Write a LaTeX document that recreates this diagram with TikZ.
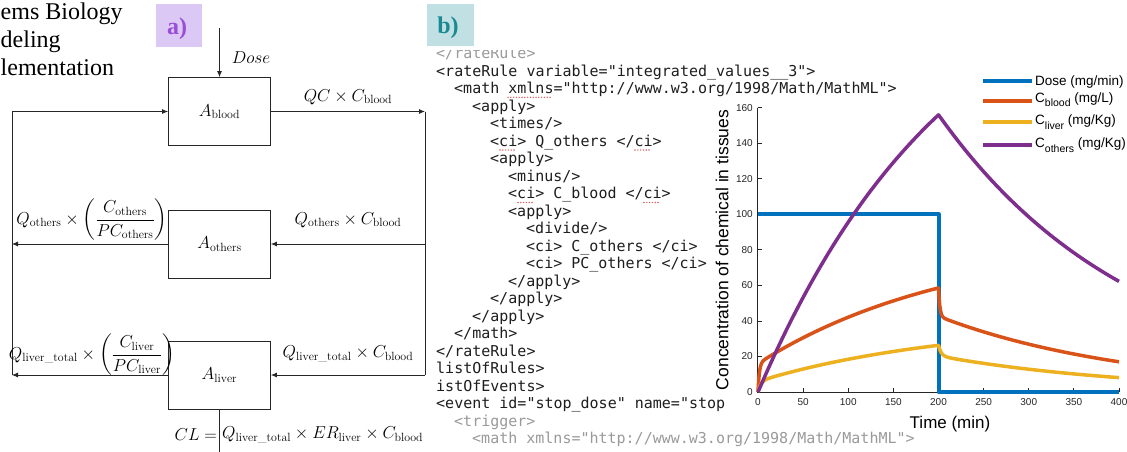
\documentclass[tikz,border=0pt]{standalone}
\usepackage{fontspec}
\usepackage{amsmath}
\usetikzlibrary{arrows.meta}
\newfontfamily\plotfont{Liberation Sans}
\newfontfamily\codefont{DejaVu Sans Mono}
\newfontfamily\serifTimes{Liberation Serif}
\definecolor{mblue}{HTML}{0072BD}
\definecolor{morange}{HTML}{D95319}
\definecolor{myellow}{HTML}{EDB120}
\definecolor{mpurple}{HTML}{7E2F8E}
\definecolor{axisgray}{HTML}{262626}
\definecolor{codegray}{HTML}{9A9A9A}
\definecolor{codeblack}{HTML}{1E1E1E}
\definecolor{squigred}{HTML}{E06464}
\definecolor{abg}{HTML}{DCC8F5}
\definecolor{atxt}{HTML}{9A4DD8}
\definecolor{bbg}{HTML}{C0E0E4}
\definecolor{btxt}{HTML}{1A8A92}
\tikzset{
  box/.style={draw=black!85, line width=0.8pt, minimum width=102pt, minimum height=68pt, inner sep=0pt, font=\fontsize{17}{20}\selectfont},
  flow/.style={draw=black!85, line width=0.8pt},
  arr/.style={flow, -{Latex[length=6pt,width=5pt]}},
  mlabel/.style={inner sep=0pt, font=\fontsize{17}{20}\selectfont},
  codetxt/.style={anchor=base west, inner sep=0pt, font=\codefont\fontsize{15}{17.5}\selectfont},
  ticklbl/.style={inner sep=0pt, font=\plotfont\fontsize{10}{12}\selectfont, text=axisgray},
  legtxt/.style={anchor=base west, inner sep=0pt, font=\plotfont\fontsize{13.5}{16}\selectfont},
  curve/.style={line width=3.5pt, line join=round},
  legline/.style={line width=4pt},
  squig/.style={draw=squigred, line width=1.6pt, line cap=round, dash pattern=on 0pt off 2.8pt},
  panellbl/.style={inner sep=0pt, font=\serifTimes\bfseries\fontsize{24}{28}\selectfont},
  cuttxt/.style={anchor=base west, inner sep=0, font=\serifTimes\fontsize{24}{28}\selectfont},
}
\newcommand\cdln[4]{\node[codetxt, text=#4] (c#1) at ({436+18*#2},{58.5+17.5*#1}) {#3};}
\newcommand\lgsub[1]{\raisebox{-4.5pt}{\fontsize{10.5}{12}\selectfont #1}}
\begin{document}
\begin{tikzpicture}[x=1pt,y=-1pt]
\useasboundingbox (0,0) rectangle (1127,451);
\clip (0,0) rectangle (1127,451);
\fill[white] (0,0) rectangle (1127,451);

% ---------- top-left text ----------
\node[cuttxt] (t1) at (0.5,19) {ems Biology};
\node[cuttxt] (t2) at (0.5,47) {deling};
\node[cuttxt] (t3) at (0.5,75) {lementation};

% ---------- panel labels ----------
\node[fill=abg, minimum width=46pt, minimum height=43pt, inner sep=0] (abox) at (179,25.5) {};
\node[panellbl, text=atxt] (alab) at (177,29) {a)};
\node[fill=bbg, minimum width=47pt, minimum height=42pt, inner sep=0] (bbox) at (450.5,25) {};
\node[panellbl, text=btxt] (blab) at (448,28) {b)};

% ---------- panel a ----------
\node[box] (blood) at (219.5,111.5) {$A_{\mathrm{blood}}$};
\node[box] (others) at (219.5,244) {$A_{\mathrm{others}}$};
\node[box] (liver) at (219.5,375) {$A_{\mathrm{liver}}$};

\coordinate (dosetop) at (219.5,28);
\coordinate (Lt) at (12,111.5);
\coordinate (Lo) at (12,244);
\coordinate (Lb) at (12,375);
\coordinate (Rt) at (425,111.5);
\coordinate (Ro) at (425,244);
\coordinate (Rb) at (425,375);
\coordinate (clend) at (219.5,455);

\draw[arr] (dosetop) -- (blood.north);
\draw[flow] (Lb) -- (Lt);
\draw[arr] (Lt) -- (blood.west);
\draw[arr] (blood.east) -- (Rt);
\draw[flow] (Rt) -- (Rb);
\draw[arr] (Ro) -- (others.east);
\draw[arr] (others.west) -- (Lo);
\draw[arr] (Rb) -- (liver.east);
\draw[arr] (liver.west) -- (Lb);
\draw[flow] (liver.south) -- (clend);

\node[mlabel] (ldose) at (251,58) {$Dose$};
\node[mlabel] (lqc) at (348,97) {$QC\times C_{\mathrm{blood}}$};
\node[mlabel] (lqoL) at (92,220) {$Q_{\mathrm{others}}\times\left(\dfrac{C_{\mathrm{others}}}{PC_{\mathrm{others}}}\right)$};
\node[mlabel] (lqoR) at (348,220) {$Q_{\mathrm{others}}\times C_{\mathrm{blood}}$};
\node[mlabel] (lqlL) at (92,355) {$Q_{\mathrm{liver\_total}}\times\left(\dfrac{C_{\mathrm{liver}}}{PC_{\mathrm{liver}}}\right)$};
\node[mlabel] (lqlR) at (348,354) {$Q_{\mathrm{liver\_total}}\times C_{\mathrm{blood}}$};
\node[mlabel, anchor=east] (lcl) at (217,435) {$CL=$};
\node[mlabel, anchor=west] (lclR) at (222,435) {$Q_{\mathrm{liver\_total}}\times ER_{\mathrm{liver}}\times C_{\mathrm{blood}}$};

% ---------- panel b: code ----------
\begin{scope}
\clip (430,50.5) rectangle (620,70);
\cdln{0}{0}{</rateRule>}{codegray}
\end{scope}
\cdln{1}{0}{<rateRule variable="integrated\_values\_\_3">}{codeblack}
\cdln{2}{1}{<math xmlns="http://www.w3.org/1998/Math/MathML">}{codeblack}
\cdln{3}{2}{<apply>}{codeblack}
\cdln{4}{3}{<times/>}{codeblack}
\cdln{5}{3}{<ci> Q\_others </ci>}{codeblack}
\cdln{6}{3}{<apply>}{codeblack}
\cdln{7}{4}{<minus/>}{codeblack}
\cdln{8}{4}{<ci> C\_blood </ci>}{codeblack}
\cdln{9}{4}{<apply>}{codeblack}
\cdln{10}{5}{<divide/>}{codeblack}
\cdln{11}{5}{<ci> C\_others </ci>}{codeblack}
\cdln{12}{5}{<ci> PC\_others </ci>}{codeblack}
\cdln{13}{4}{</apply>}{codeblack}
\cdln{14}{3}{</apply>}{codeblack}
\cdln{15}{2}{</apply>}{codeblack}
\cdln{16}{1}{</math>}{codeblack}
\cdln{17}{0}{</rateRule>}{codeblack}
\cdln{18}{0}{listOfRules>}{codeblack}
\cdln{19}{0}{istOfEvents>}{codeblack}
\cdln{20}{0}{<event id="stop\_dose" name="stop}{codeblack}
\cdln{21}{1}{<trigger>}{codegray}
\cdln{22}{2}{<math xmlns="http://www.w3.org/1998/Math/MathML">}{codegray}

\draw[squig] (508,97.3) -- (551,97.3);
\draw[squig] (500,150) -- (515,150);
\draw[squig] (635,150) -- (650,150);
\draw[squig] (518,202.5) -- (533,202.5);
\draw[squig] (644,202.5) -- (659,202.5);

% ---------- panel b: chart ----------
\draw[axisgray, line width=0.8pt] (757.5,107.7) -- (757.5,392) -- (1119,392);
\foreach \v in {0,20,...,160} {
  \draw[axisgray, line width=0.8pt] (757.5,{392-1.777*\v}) -- (761.5,{392-1.777*\v});
  \node[ticklbl, anchor=east] (yt\v) at (753,{392-1.777*\v}) {\v};
}
\foreach \t in {0,50,...,400} {
  \draw[axisgray, line width=0.8pt] ({758+0.9025*\t},392) -- ({758+0.9025*\t},388);
  \node[ticklbl] (xt\t) at ({758+0.9025*\t},402.5) {\t};
}
\node[inner sep=0, rotate=90, font=\plotfont\fontsize{17.5}{20}\selectfont, text=black] (ylab) at (722,250) {Concentration of chemical in tissues};
\node[inner sep=0, font=\plotfont\fontsize{17}{20}\selectfont, text=black] (xlab) at (950,424) {Time (min)};

% Dose
\draw[curve, mblue, line width=4pt] (758,214.3) -- (938.5,214.3) -- (938.5,392) -- (1119,392);
% C blood
\draw[curve, morange]
  plot[domain=0:12, samples=40] ({758+0.9025*\x},{392-1.777*(16*(1-exp(-min(\x/1.5,15)))+0.273*259.6*(1-exp(-0.0046*\x)))})
  -- plot[domain=12:200, samples=50] ({758+0.9025*\x},{392-1.777*(16*(1-exp(-min(\x/1.5,15)))+0.273*259.6*(1-exp(-0.0046*\x)))})
  -- plot[domain=200:215, samples=40] ({758+0.9025*\x},{392-1.777*(16*exp(-min((\x-200)/1.5,15))+0.273*156*exp(-0.0046*(\x-200)))})
  -- plot[domain=215:400, samples=50] ({758+0.9025*\x},{392-1.777*(16*exp(-min((\x-200)/1.5,15))+0.273*156*exp(-0.0046*(\x-200)))});
% C liver
\draw[curve, myellow]
  plot[domain=0:20, samples=40] ({758+0.9025*\x},{392-1.777*(6*(1-exp(-min(\x/3,15)))+0.13*259.6*(1-exp(-0.0046*\x)))})
  -- plot[domain=20:200, samples=50] ({758+0.9025*\x},{392-1.777*(6*(1-exp(-min(\x/3,15)))+0.13*259.6*(1-exp(-0.0046*\x)))})
  -- plot[domain=200:225, samples=40] ({758+0.9025*\x},{392-1.777*(6*exp(-min((\x-200)/3,15))+0.13*156*exp(-0.0046*(\x-200)))})
  -- plot[domain=225:400, samples=50] ({758+0.9025*\x},{392-1.777*(6*exp(-min((\x-200)/3,15))+0.13*156*exp(-0.0046*(\x-200)))});
% C others
\draw[curve, mpurple]
  plot[domain=0:200, samples=70] ({758+0.9025*\x},{392-1.777*259.6*(1-exp(-0.0046*\x))})
  -- plot[domain=200:400, samples=70] ({758+0.9025*\x},{392-1.777*156*exp(-0.0046*(\x-200))});

% legend
\draw[legline, mblue] (983,80.5) -- (1032,80.5);
\draw[legline, morange] (983,100.5) -- (1032,100.5);
\draw[legline, myellow] (983,121.7) -- (1032,121.7);
\draw[legline, mpurple] (983,144.5) -- (1032,144.5);
\node[legtxt] (lg1) at (1035,85.5) {Dose (mg/min)};
\node[legtxt] (lg2) at (1035,102) {C\lgsub{blood} (mg/L)};
\node[legtxt] (lg3) at (1035,124.5) {C\lgsub{liver} (mg/Kg)};
\node[legtxt] (lg4) at (1035,147.5) {C\lgsub{others} (mg/Kg)};
\end{tikzpicture}
\end{document}
